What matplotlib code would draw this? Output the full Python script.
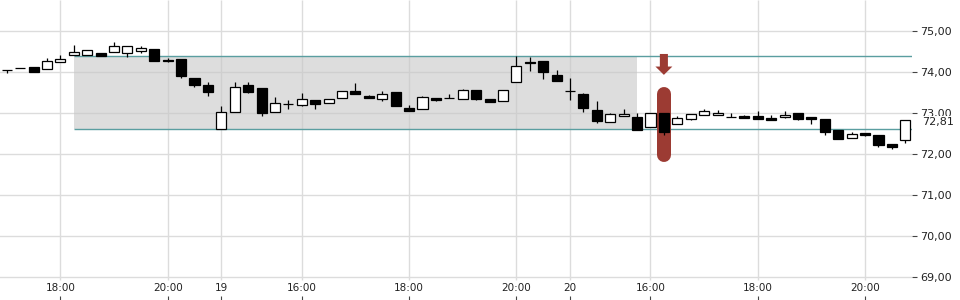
import matplotlib
matplotlib.use('Agg')
import matplotlib.pyplot as plt
import matplotlib.ticker as mticker
from matplotlib.patches import Rectangle
import numpy as np

# 15-min candles, three sessions (index based x axis)
opens = [74.06, 74.10, 74.11, 74.07, 74.25, 74.41, 74.41, 74.46, 74.50, 74.46,
         74.52, 74.56, 74.285, 74.32, 73.85, 73.68, 72.60, 73.02, 73.68, 73.61,
         73.02, 73.225, 73.19, 73.32, 73.24, 73.36, 73.54, 73.41, 73.35, 73.51,
         73.12, 73.11, 73.37, 73.365, 73.33, 73.55, 73.34, 73.29, 73.75, 74.25,
         74.26, 73.92, 73.535, 73.46, 73.07, 72.77, 72.92, 72.90, 72.65, 73.00,
         72.72, 72.86, 72.94, 72.94, 72.905, 72.92, 72.93, 72.87, 72.90, 72.99,
         72.90, 72.85, 72.59, 72.38, 72.51, 72.46, 72.25, 72.34]
highs = [74.06, 74.10, 74.11, 74.34, 74.41, 74.66, 74.53, 74.46, 74.72, 74.63,
         74.63, 74.56, 74.33, 74.32, 73.85, 73.76, 73.17, 73.76, 73.76, 73.61,
         73.38, 73.32, 73.48, 73.32, 73.35, 73.54, 73.74, 73.43, 73.54, 73.51,
         73.19, 73.41, 73.37, 73.46, 73.58, 73.55, 73.34, 73.55, 74.40, 74.36,
         74.26, 74.04, 73.85, 73.48, 73.29, 73.00, 73.11, 72.99, 73.00, 73.00,
         72.93, 72.97, 73.10, 73.07, 73.00, 72.95, 73.05, 72.96, 73.05, 72.99,
         72.90, 72.85, 72.59, 72.54, 72.51, 72.46, 72.25, 72.84]
lows = [73.97, 74.09, 73.99, 74.07, 74.25, 74.41, 74.41, 74.40, 74.48, 74.37,
        74.46, 74.28, 74.24, 73.86, 73.64, 73.42, 72.60, 73.02, 73.50, 72.93,
        73.02, 73.09, 73.16, 73.11, 73.24, 73.36, 73.47, 73.36, 73.29, 73.17,
        73.06, 73.11, 73.29, 73.36, 73.33, 73.32, 73.26, 73.29, 73.75, 74.03,
        73.82, 73.77, 73.31, 73.03, 72.76, 72.77, 72.92, 72.59, 72.65, 72.47,
        72.72, 72.84, 72.94, 72.94, 72.90, 72.89, 72.85, 72.84, 72.88, 72.83,
        72.74, 72.46, 72.36, 72.38, 72.44, 72.16, 72.13, 72.27]
closes = [74.04, 74.09, 73.99, 74.26, 74.31, 74.50, 74.53, 74.40, 74.63, 74.63,
          74.59, 74.28, 74.28, 73.91, 73.69, 73.52, 73.02, 73.63, 73.52, 73.01,
          73.24, 73.215, 73.33, 73.23, 73.34, 73.54, 73.47, 73.37, 73.46, 73.18,
          73.06, 73.38, 73.31, 73.36, 73.56, 73.35, 73.26, 73.55, 74.15, 74.23,
          74.01, 73.77, 73.525, 73.13, 72.81, 72.97, 72.97, 72.59, 73.00, 72.54,
          72.88, 72.97, 73.05, 73.00, 72.90, 72.89, 72.85, 72.84, 72.95, 72.85,
          72.85, 72.54, 72.36, 72.50, 72.47, 72.23, 72.16, 72.82]

tick_idx = [4, 12, 16, 22, 30, 38, 42, 48, 56, 64]
tick_labels = ['18:00', '20:00', '19', '16:00', '18:00', '20:00', '20', '16:00', '18:00', '20:00']
price_ticks = [69, 70, 71, 72, 73, 74, 75]

# consolidation range and signal
range_start, range_end = 5, 47
range_top, range_bottom = 74.39, 72.60
signal_idx = 49
signal_top, signal_bottom = 73.64, 71.81
arrow_from, arrow_to = 74.44, 73.93
last_label = 72.81

red = '#9c3b33'
teal = '#5a9ea0'

fig = plt.figure(figsize=(9.6, 3.0), dpi=100)
ax = fig.add_axes([0, 0, 912 / 960, 1])

x = np.arange(len(opens))
o = np.array(opens)
c = np.array(closes)
ymin, ymax = 68.44, 75.756
ax.set_xlim(-0.5, len(opens) - 0.5)
ax.set_ylim(ymin, ymax)

# grid
for p in price_ticks:
    ax.axhline(p, color='#dcdcdc', lw=1, zorder=0)
ax.vlines(tick_idx, 68.93, ymax, color='#dcdcdc', lw=1, zorder=0)

# range box + lines
ax.add_patch(Rectangle((range_start, range_bottom), range_end - range_start,
                       range_top - range_bottom, facecolor=(0.78, 0.78, 0.78),
                       alpha=0.6, edgecolor='none', zorder=0.5))
ax.hlines([range_top, range_bottom], range_start, len(opens) - 0.5,
          color=teal, lw=1, zorder=1)

# signal marker
cap = 7 / 41
ax.plot([signal_idx, signal_idx], [signal_bottom + cap, signal_top - cap],
        color=red, lw=10.08, solid_capstyle='round', zorder=2)
ax.annotate('', xy=(signal_idx, arrow_to), xytext=(signal_idx, arrow_from),
            arrowprops=dict(arrowstyle='simple,head_width=12.2,head_length=6,tail_width=5.8',
                            mutation_scale=1, color=red, shrinkA=0, shrinkB=0, lw=0),
            zorder=2)

# candles
ax.vlines(x, lows, highs, color='black', lw=0.9, zorder=3)
up = c >= o
bottoms = np.minimum(o, c)
heights = np.maximum(np.abs(c - o), 0.008)
ax.bar(x, heights, bottom=bottoms, width=0.75,
       color=np.where(up, 'white', 'black'), edgecolor='black', lw=0.9, zorder=4)

for s in ax.spines.values():
    s.set_visible(False)

ax.set_xticks(tick_idx)
ax.set_xticklabels(tick_labels)
ax.tick_params(axis='x', direction='in', length=3, width=0.8, color='#444444',
               pad=-12.5, labelsize=7.5, labelcolor='#222222')
ax.yaxis.tick_right()
ax.set_yticks(price_ticks)
ax.yaxis.set_major_formatter(mticker.FuncFormatter(lambda v, pos: f'{v:.2f}'.replace('.', ',')))
ax.tick_params(axis='y', direction='out', length=3.6, width=0.8, color='#444444',
               pad=2.5, labelsize=8, labelcolor='#222222')

ax.text(1.011, closes[-1] - 0.03, f'{last_label:.2f}'.replace('.', ','),
        transform=ax.get_yaxis_transform(), ha='left', va='center',
        fontsize=8, color='#222222', zorder=10,
        bbox=dict(facecolor='white', edgecolor='none', pad=0.6))

fig.savefig('out.png', dpi=100)
